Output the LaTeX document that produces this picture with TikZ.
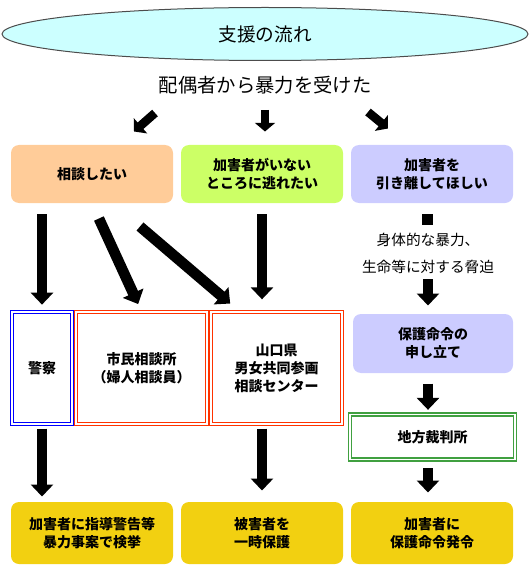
\documentclass[tikz,border=0pt]{standalone}
\usepackage{fontspec}
\setmainfont{Noto Sans CJK JP}
\usetikzlibrary{arrows.meta,shapes.geometric,calc}

\definecolor{peach}{RGB}{255,204,153}
\definecolor{lime}{RGB}{204,255,102}
\definecolor{lavender}{RGB}{204,204,255}
\definecolor{gold}{RGB}{242,208,17}
\definecolor{sky}{RGB}{204,255,255}
\definecolor{redline}{RGB}{255,51,0}
\definecolor{greenline}{RGB}{64,160,64}

\tikzset{every picture/.style={line width=0.75pt}}
\tikzset{
  boxtext/.style={font=\bfseries\fontsize{10.5}{13.5}\selectfont, align=center, inner sep=0pt},
  wishbox/.style={boxtext, rounded corners=6pt, minimum width=121.5pt, minimum height=43.5pt},
  resultbox/.style={boxtext, fill=gold, rounded corners=6pt, minimum width=121.5pt, minimum height=46.5pt},
  placebox/.style={boxtext, draw=#1, double=white, line width=1pt, double distance=1.2pt},
  bigarrow/.style={draw, line width=8pt, -{Triangle[width=16.5pt,length=9pt]}},
  smallarrow/.style={draw, line width=6.5pt, -{Triangle[width=15pt,length=6.5pt]}},
}

\begin{document}
\begin{tikzpicture}[x=0.75pt,y=0.75pt,yscale=-1,xscale=1]
\useasboundingbox (0,0) rectangle (531,574);

% title
\node [ellipse, draw=black!70, fill=sky, minimum width=394.5pt, minimum height=39.75pt, inner sep=0pt, font=\fontsize{14}{16}\selectfont] (title) at (265,34) {支援の流れ};
\node [font=\fontsize{14.5}{17}\selectfont, inner sep=0pt] (cause) at (265,85) {配偶者から暴力を受けた};

% what the victim wants
\node [wishbox, fill=peach] (soudan) at (92,174) {相談したい};
\node [wishbox, fill=lime] (nigetai) at (262,174) {加害者がいない\\ところに逃れたい};
\node [wishbox, fill=lavender] (hikihanashi) at (432,174) {加害者を\\引き離してほしい};

% where to go
\node [placebox=blue, minimum width=45pt, minimum height=84pt] (keisatsu) at (42,368) {警察};
\node [placebox=redline, minimum width=98.25pt, minimum height=84pt] (shimin) at (141.5,368) {市民相談所\\（婦人相談員）};
\node [placebox=redline, minimum width=98.25pt, minimum height=84pt] (yamaguchi) at (276.5,368) {山口県\\男女共同参画\\相談センター};

\node [fill=black, minimum size=8.25pt, inner sep=0pt] (stub) at (427,219.5) {};
\node [font=\fontsize{11}{20}\selectfont, align=center, inner sep=0pt] (threat) at (428,253.5) {身体的な暴力、\\生命等に対する脅迫};
\node [wishbox, fill=lavender, minimum width=120pt, minimum height=44.25pt] (hogo) at (433,343.5) {保護命令の\\申し立て};
\node [placebox=greenline, minimum width=123.75pt, minimum height=33.75pt] (saiban) at (432.5,437) {地方裁判所};

% results
\node [resultbox] (kengo) at (92,533) {加害者に指導警告等\\暴力事案で検挙};
\node [resultbox] (ichiji) at (262,533) {被害者を\\一時保護};
\node [resultbox] (hatsurei) at (432,533) {加害者に\\保護命令発令};

% arrows
\draw [smallarrow] ($(cause)+(-110,28)$) -- ($(soudan.north)+(42,-13)$);
\draw [smallarrow] ($(cause)+(0,25)$) -- ($(nigetai.north)+(3,-13)$);
\draw [smallarrow] ($(cause)+(103,27)$) -- ($(hikihanashi.north)+(-44,-16)$);

\draw [bigarrow, shorten <=8pt, shorten >=5pt] (soudan.south -| keisatsu.north) -- (keisatsu.north);
\draw [bigarrow, shorten <=12.4pt, shorten >=6pt] (soudan.south) -- (shimin.north);
\draw [bigarrow, shorten <=26.6pt, shorten >=9pt] ($(soudan.south)+(21,0)$) -- ($(yamaguchi.north west)+(29,0)$);
\draw [bigarrow, shorten <=8pt, shorten >=9pt] (nigetai.south) -- (nigetai.south |- yamaguchi.north);

\draw [bigarrow, shorten <=4pt, shorten >=6pt] (threat.south) -- (threat.south |- hogo.north);
\draw [bigarrow, shorten <=7.5pt, shorten >=3pt] (hogo.south -| threat.south) -- (saiban.north -| threat.south);
\draw [bigarrow, shorten <=6pt, shorten >=6.75pt] (saiban.south -| threat.south) -- (hatsurei.north -| threat.south);

\draw [bigarrow, shorten <=3pt, shorten >=3.75pt] (keisatsu.south) -- (kengo.north -| keisatsu.south);
\draw [bigarrow, shorten <=3pt, shorten >=8.25pt] (yamaguchi.south -| ichiji.north) -- (ichiji.north);

\end{tikzpicture}
\end{document}
